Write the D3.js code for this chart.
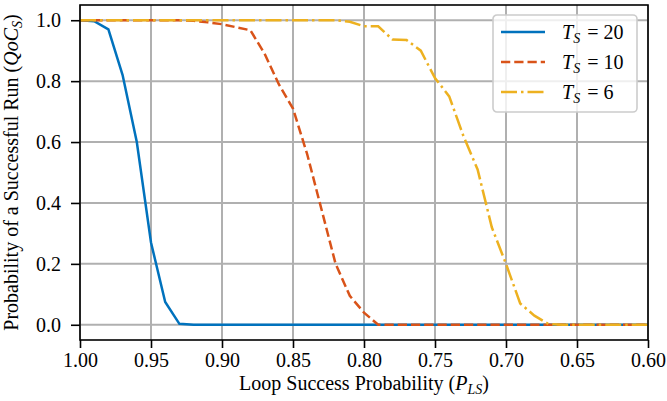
<!DOCTYPE html>
<html lang="en">
<head>
    <meta charset="UTF-8">
    <title>Probability of a Successful Run</title>
    <style>
        body { margin: 0; background: #fff; }
        text { font-family: "Liberation Serif", "DejaVu Serif", serif; fill: #000; }
    </style>
</head>
<body>
    <svg id="chart" width="667" height="401"></svg>
    <script src="https://d3js.org/d3.v7.min.js"></script>
    <script>
        // loop success probability, 1.00 down to 0.60
        var pls = [1.00, 0.99, 0.98, 0.97, 0.96, 0.95, 0.94, 0.93, 0.92, 0.91,
                   0.90, 0.89, 0.88, 0.87, 0.86, 0.85, 0.84, 0.83, 0.82, 0.81,
                   0.80, 0.79, 0.78, 0.77, 0.76, 0.75, 0.74, 0.73, 0.72, 0.71,
                   0.70, 0.69, 0.68, 0.67, 0.66, 0.65, 0.64, 0.63, 0.62, 0.61, 0.60];

        var ts20 = [1.0, 0.997, 0.97, 0.82, 0.60, 0.27, 0.075, 0.003, 0, 0,
                    0, 0, 0, 0, 0, 0, 0, 0, 0, 0,
                    0, 0, 0, 0, 0, 0, 0, 0, 0, 0,
                    0, 0, 0, 0, 0, 0, 0, 0, 0, 0, 0];

        var ts10 = [1.0, 1.0, 1.0, 1.0, 1.0, 1.0, 1.0, 1.0, 0.998, 0.993,
                    0.987, 0.977, 0.967, 0.89, 0.79, 0.71, 0.56, 0.38, 0.20, 0.095,
                    0.04, 0, 0, 0, 0, 0, 0, 0, 0, 0,
                    0, 0, 0, 0, 0, 0, 0, 0, 0, 0, 0];

        var ts6 = [1.0, 1.0, 1.0, 1.0, 1.0, 1.0, 1.0, 1.0, 1.0, 1.0,
                   1.0, 1.0, 1.0, 1.0, 1.0, 1.0, 1.0, 1.0, 1.0, 0.995,
                   0.98, 0.98, 0.937, 0.935, 0.90, 0.81, 0.75, 0.62, 0.51, 0.32,
                   0.20, 0.07, 0.03, 0.002, 0, 0, 0, 0, 0, 0, 0];

        var seriesNames = ["20", "10", "6"];
        var seriesColors = ["#0072BD", "#D95319", "#EDB120"];
        var seriesDash = ["none", "9.25,4", "16,4,2.5,4"];

        var xTicks = [1.00, 0.95, 0.90, 0.85, 0.80, 0.75, 0.70, 0.65, 0.60];
        var yTicks = [0.0, 0.2, 0.4, 0.6, 0.8, 1.0];

        var margin = { top: 5, right: 19, bottom: 61, left: 80 },
            width = 667 - margin.left - margin.right,
            height = 401 - margin.top - margin.bottom;

        var svg = d3.select("#chart")
            .append("g")
            .attr("transform", "translate(" + margin.left + "," + margin.top + ")");

        var x = d3.scaleLinear().domain([1.0, 0.6]).range([0, width]);
        var y = d3.scaleLinear().domain([-0.05, 1.05]).range([height, 0]);

        // grid
        svg.append("g")
            .selectAll("line.gx")
            .data(xTicks)
            .enter().append("line")
            .attr("x1", function(d) { return x(d); })
            .attr("x2", function(d) { return x(d); })
            .attr("y1", 0)
            .attr("y2", height)
            .style("stroke", "#b0b0b0")
            .style("stroke-width", 2);

        svg.append("g")
            .selectAll("line.gy")
            .data(yTicks)
            .enter().append("line")
            .attr("x1", 0)
            .attr("x2", width)
            .attr("y1", function(d) { return y(d); })
            .attr("y2", function(d) { return y(d); })
            .style("stroke", "#b0b0b0")
            .style("stroke-width", 2);

        // lines
        var allSeries = [ts20, ts10, ts6];
        var line = d3.line()
            .x(function(d, i) { return x(pls[i]); })
            .y(function(d) { return y(d); });

        allSeries.forEach(function(s, k) {
            svg.append("path")
                .datum(s)
                .attr("d", line)
                .style("fill", "none")
                .style("stroke", seriesColors[k])
                .style("stroke-width", 2.5)
                .style("stroke-dasharray", seriesDash[k]);
        });

        // frame
        svg.append("rect")
            .attr("width", width)
            .attr("height", height)
            .style("fill", "none")
            .style("stroke", "#000")
            .style("stroke-width", 1.6);

        // axes
        var xAxis = svg.append("g")
            .attr("transform", "translate(0," + height + ")")
            .call(d3.axisBottom(x).tickValues(xTicks).tickFormat(d3.format(".2f"))
                  .tickSize(8).tickPadding(5));
        var yAxis = svg.append("g")
            .call(d3.axisLeft(y).tickValues(yTicks).tickFormat(d3.format(".1f"))
                  .tickSize(9).tickPadding(10));

        [xAxis, yAxis].forEach(function(a) {
            a.select(".domain").remove();
            a.selectAll("line").style("stroke", "#000").style("stroke-width", 1.6);
            a.selectAll("text")
             .style("font-family", "'Liberation Serif', serif")
             .style("font-size", "20px")
             .style("fill", "#000");
        });

        // Label for X Axis
        var xl = svg.append("text")
            .attr("x", width / 2)
            .attr("y", height + 50)
            .style("text-anchor", "middle")
            .style("font-size", "20px");
        xl.append("tspan").text("Loop Success Probability (");
        xl.append("tspan").style("font-style", "italic").text("P");
        xl.append("tspan").style("font-style", "italic").style("font-size", "14px")
            .attr("dy", 4).text("LS");
        xl.append("tspan").attr("dy", -4).text(")");

        // Label for Y Axis
        var yl = svg.append("text")
            .attr("transform", "rotate(-90)")
            .attr("x", -height / 2)
            .attr("y", 18 - margin.left)
            .style("text-anchor", "middle")
            .style("font-size", "20px");
        yl.append("tspan").text("Probability of a Successful Run (");
        yl.append("tspan").style("font-style", "italic").text("QoC");
        yl.append("tspan").style("font-style", "italic").style("font-size", "14px")
            .attr("dy", 4).text("S");
        yl.append("tspan").attr("dy", -4).text(")");

        // legend
        var leg = svg.append("g")
            .attr("transform", "translate(" + (width - 155) + ",10)");
        leg.append("rect")
            .attr("width", 144)
            .attr("height", 97)
            .attr("rx", 4)
            .style("fill", "rgba(255,255,255,0.8)")
            .style("stroke", "#cccccc")
            .style("stroke-width", 1.6);

        seriesNames.forEach(function(name, k) {
            var yy = 17 + k * 30;
            leg.append("line")
                .attr("x1", 8).attr("x2", 52)
                .attr("y1", yy).attr("y2", yy)
                .style("stroke", seriesColors[k])
                .style("stroke-width", 2.5)
                .style("stroke-dasharray", seriesDash[k]);
            var t = leg.append("text")
                .attr("x", 69)
                .attr("y", yy + 7)
                .style("font-size", "20px");
            t.append("tspan").style("font-style", "italic").text("T");
            t.append("tspan").style("font-style", "italic").style("font-size", "14px")
                .attr("dy", 4).text("S");
            t.append("tspan").attr("dy", -4).attr("dx", 7).text("=");
            t.append("tspan").attr("dx", 5).text(name);
        });
    </script>
</body>
</html>
